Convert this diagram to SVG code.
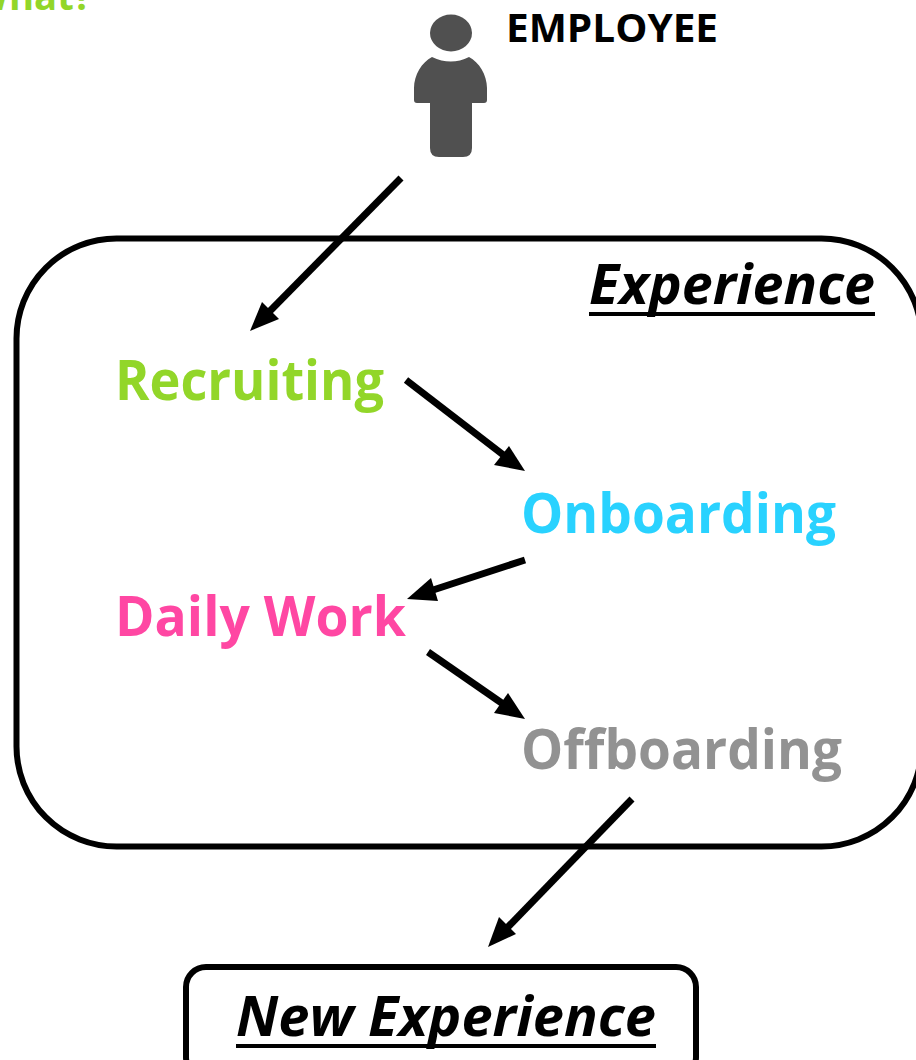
<svg xmlns="http://www.w3.org/2000/svg" width="916" height="1060" viewBox="0 0 916 1060">
<style>
text{font-family:"Open Sans","Noto Sans","Liberation Sans",sans-serif;font-weight:700}
.st{font-size:55px}
.em{font-size:55px;font-style:italic;fill:#000}
.ul{fill:#000}
.box{fill:none;stroke:#000}
.c line{stroke:#000;stroke-width:7}
.c polygon{fill:#000}
</style>
<rect width="916" height="1060" fill="#fff"/>
<g id="what"><text x="-28" y="10" style="font-size:38px" fill="#92d629" textLength="120" lengthAdjust="spacingAndGlyphs">What?</text></g>
<g id="employee">
<ellipse cx="451" cy="33" rx="21" ry="18.500" fill="#505050"/>
<path d="M432 57Q451 66 469 57C479 62 487 75 487 88V100Q487 103 484 103H472V148Q472 157 463 157H439Q430 157 430 148V103H417Q414 103 414 100V88C414 75 422 62 432 57Z" fill="#505050"/>
<text x="506" y="42" style="font-size:40px" fill="#000" textLength="212" lengthAdjust="spacingAndGlyphs">EMPLOYEE</text>
</g>
<g id="experience">
<rect class="box" x="16.500" y="238.500" width="905" height="608" rx="100" ry="100" stroke-width="6"/>
<text x="589" y="304" class="em" textLength="286" lengthAdjust="spacingAndGlyphs">Experience</text>
<rect class="ul" x="589" y="312" width="286" height="4"/>
</g>
<g id="recruiting"><text x="115" y="400" class="st" fill="#92d629" textLength="269" lengthAdjust="spacingAndGlyphs">Recruiting</text></g>
<g id="onboarding"><text x="521" y="533" class="st" fill="#29d2ff" textLength="315" lengthAdjust="spacingAndGlyphs">Onboarding</text></g>
<g id="daily-work"><text x="115" y="636" class="st" fill="#ff47a3" textLength="291" lengthAdjust="spacingAndGlyphs">Daily Work</text></g>
<g id="offboarding"><text x="521" y="769" class="st" fill="#929292" textLength="321" lengthAdjust="spacingAndGlyphs">Offboarding</text></g>
<g id="new-experience">
<rect class="box" x="186" y="967" width="510" height="110" rx="20" ry="20" stroke-width="6"/>
<text x="236" y="1036" class="em" textLength="420" lengthAdjust="spacingAndGlyphs">New Experience</text>
<rect class="ul" x="236" y="1044" width="420" height="4"/>
</g>
<g id="connectors" class="c">
<line x1="401" y1="178" x2="268" y2="313"/><polygon points="250,331 262,302 279,319"/>
<line x1="406" y1="380" x2="506" y2="457"/><polygon points="525,471 494,465 509,446"/>
<line x1="525" y1="560" x2="430" y2="591"/><polygon points="407,599 431,578 438,601"/>
<line x1="428" y1="652" x2="506" y2="706"/><polygon points="525,719 494,713 508,693"/>
<line x1="632" y1="799" x2="506" y2="929"/><polygon points="488,947 499,917 516,934"/>
</g>
</svg>
